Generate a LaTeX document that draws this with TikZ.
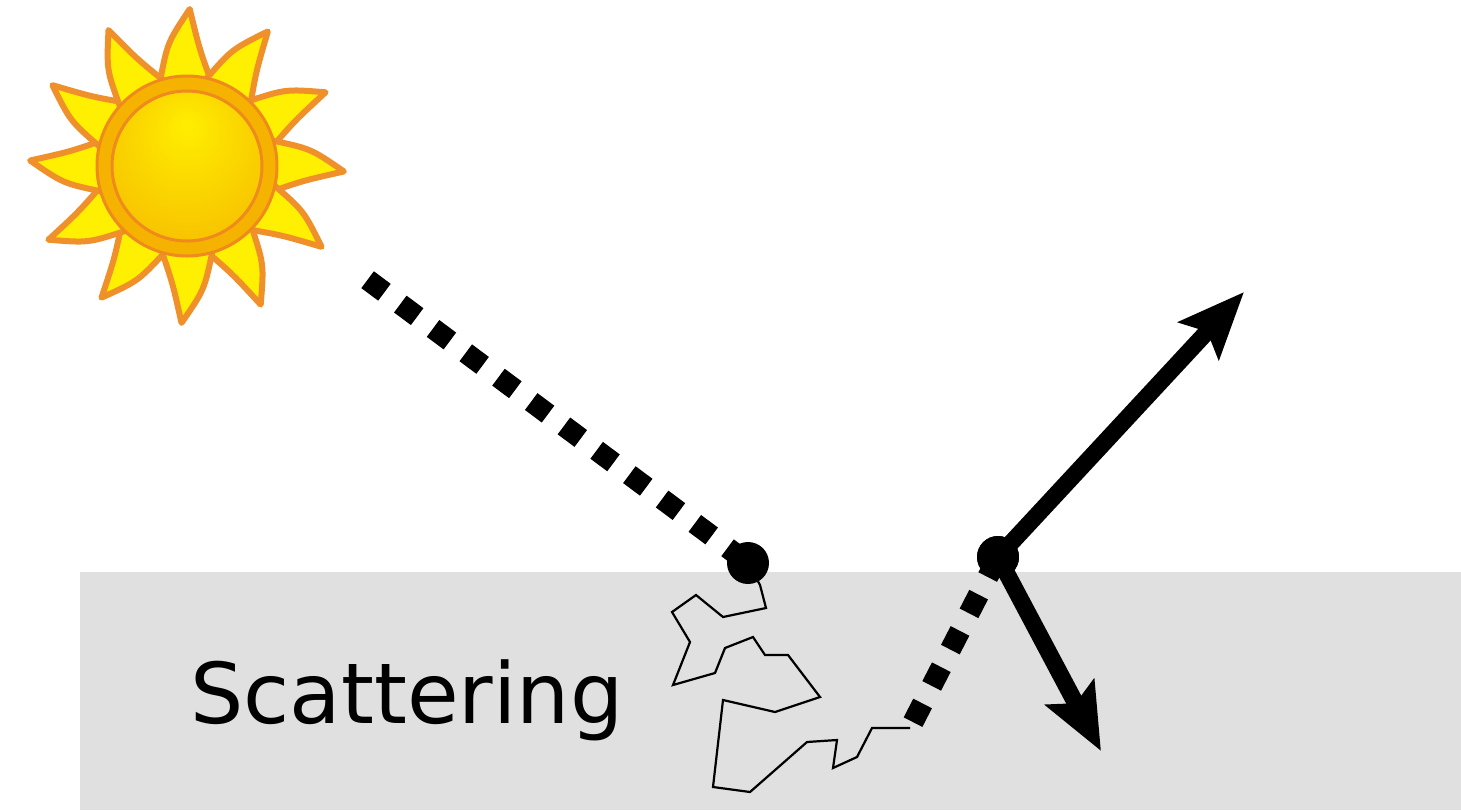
\documentclass[tikz,border=0pt]{standalone}
\usepackage{fontspec}
\newfontfamily\labelfont{DejaVu Sans}
\usetikzlibrary{arrows.meta}

\definecolor{ground}{HTML}{E0E0E0}
\definecolor{rayfill}{HTML}{FFEF00}
\definecolor{rayedge}{HTML}{F0902A}
\definecolor{ringfill}{HTML}{F5B300}
\definecolor{rimline}{HTML}{EE8A1E}
\definecolor{facehi}{HTML}{FFEE00}
\definecolor{facemid}{HTML}{F8C600}
\definecolor{facelo}{HTML}{F0A300}

% sun face: bright spot a little above the middle
\pgfdeclareradialshading{sunface}{\pgfpoint{0bp}{14bp}}{%
  color(0bp)=(facehi); color(12bp)=(facehi!60!facemid);
  color(30bp)=(facemid); color(46bp)=(facelo); color(60bp)=(facelo)}

\tikzset{
  photon/.style={line width=10.5pt, dash pattern=on 10.5pt off 9.9pt},
  walk/.style={line width=1.1pt, line join=miter},
  hit/.style={circle, fill=black, minimum size=21pt, inner sep=0pt},
  bounce/.style={line width=8.5pt, -{Stealth[length=33pt, width=27pt, inset=6pt]}},
  sunray/.style={fill=rayfill, draw=rayedge, line width=3pt, line join=round},
}

\begin{document}
\begin{tikzpicture}[x=0.5pt, y=-0.5pt]
  \useasboundingbox (0,0) rectangle (1461,810);

  % ground layer
  \fill[ground] (80,572) rectangle (1461,810);

  % sun: twelve slightly curved rays, a rim and a shaded face
  \begin{scope}[shift={(187,166)}, yscale=-1]
    \foreach \b in {91,61,30,0,-29,-60,-90,-121,-150,180,151,122}
      \filldraw[sunray] ({\b-17}:88) .. controls ({\b-7}:118) .. ({\b-2}:157)
                        .. controls ({\b+8}:125) .. ({\b+17}:88) -- cycle;
    \filldraw[fill=ringfill, draw=rimline, line width=1.5pt] (0,0) circle[radius=90];
    \shade[shading=sunface] (0,0) circle[radius=75];
    \draw[rimline, line width=1.5pt] (0,0) circle[radius=75];
  \end{scope}

  % entry and exit points
  \node[hit] (in) at (748,563) {};
  \node[hit] (out) at (998,557) {};
  \coordinate (beam) at (367.6,279.7);
  \coordinate (leave) at (910,728);
  \coordinate (up) at (1244,292);
  \coordinate (down) at (1101,751);

  % incoming light
  \draw[photon] (beam) -- (in.center);

  % random walk below the surface
  \draw[walk] (in.center) -- (760,585) -- (766,608) -- (723,617) -- (696,595)
    -- (672,612) -- (690,642) -- (673,685) -- (715,673) -- (725,648)
    -- (753,637) -- (765,655) -- (788,655) -- (820,697) -- (775,712)
    -- (723,700) -- (713,787) -- (750,792) -- (807,742) -- (837,740)
    -- (833,768) -- (857,757) -- (872,728) -- (leave);

  % light leaving the walk
  \draw[photon, dash phase=17.1pt] (leave) -- (out.center);

  % reflected and transmitted rays
  \draw[bounce] (out.center) -- (up);
  \draw[bounce] (out.center) -- (down);
  \node[hit] at (out.center) {};

  \node[font=\labelfont\fontsize{42}{50}\selectfont, anchor=base west, inner sep=0pt]
    (label) at (190,723) {Scattering};
\end{tikzpicture}
\end{document}
